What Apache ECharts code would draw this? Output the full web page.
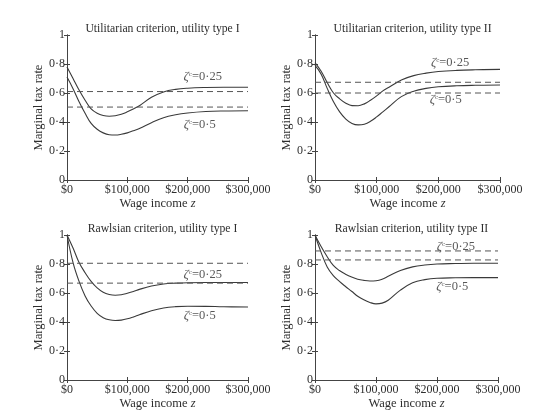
<!DOCTYPE html>
<html>
<head>
<meta charset="utf-8">
<script src="https://cdn.jsdelivr.net/npm/echarts@6/dist/echarts.min.js"></script>
<style>
  html, body { margin: 0; padding: 0; background: #fff; }
  #chart { width: 540px; height: 416px; }
</style>
</head>
<body>
<div id="chart"></div>
<script>
// wage income z (in $1000s) shared by every curve
const incomeK = [0, 10, 20, 30, 40, 50, 60, 70, 80, 90, 100, 110, 120, 140, 160, 180, 200, 230, 260, 300];

// utilitarian criterion, utility type I
const utilI_025 = [0.78, 0.70, 0.62, 0.55, 0.49, 0.46, 0.445, 0.44, 0.443, 0.453, 0.47, 0.49, 0.512, 0.57, 0.607, 0.625, 0.633, 0.638, 0.64, 0.64];
const utilI_05  = [0.71, 0.63, 0.54, 0.46, 0.39, 0.35, 0.325, 0.312, 0.31, 0.315, 0.325, 0.34, 0.355, 0.395, 0.43, 0.45, 0.462, 0.472, 0.476, 0.478];
const utilI_dash = [0.61, 0.503];

// utilitarian criterion, utility type II
const utilII_025 = [0.81, 0.75, 0.67, 0.60, 0.56, 0.53, 0.513, 0.512, 0.525, 0.55, 0.58, 0.615, 0.64, 0.69, 0.72, 0.737, 0.748, 0.756, 0.76, 0.763];
const utilII_05  = [0.79, 0.73, 0.63, 0.54, 0.47, 0.42, 0.39, 0.38, 0.385, 0.405, 0.435, 0.47, 0.505, 0.575, 0.612, 0.632, 0.643, 0.65, 0.653, 0.655];
const utilII_dash = [0.674, 0.60];

// rawlsian criterion, utility type I
const rawlI_025 = [1.0, 0.91, 0.81, 0.74, 0.68, 0.635, 0.605, 0.59, 0.585, 0.588, 0.598, 0.61, 0.625, 0.648, 0.662, 0.668, 0.671, 0.672, 0.672, 0.672];
const rawlI_05  = [1.0, 0.81, 0.68, 0.58, 0.51, 0.46, 0.43, 0.415, 0.41, 0.413, 0.422, 0.435, 0.45, 0.478, 0.497, 0.506, 0.509, 0.508, 0.505, 0.503];
const rawlI_dash = [0.805, 0.668];

// rawlsian criterion, utility type II
const rawlII_025 = [1.0, 0.92, 0.85, 0.79, 0.755, 0.73, 0.71, 0.695, 0.687, 0.683, 0.685, 0.695, 0.715, 0.755, 0.78, 0.793, 0.80, 0.803, 0.805, 0.805];
const rawlII_05  = [1.0, 0.88, 0.78, 0.72, 0.68, 0.645, 0.612, 0.578, 0.553, 0.535, 0.525, 0.53, 0.55, 0.62, 0.67, 0.692, 0.702, 0.705, 0.706, 0.706];
const rawlII_dash = [0.89, 0.828];

// where the ζ labels sit, [income $1000s, rate] for 0.25 then 0.5
const labelPos = [
  [[225, 0.71], [220, 0.38]],
  [[219, 0.807], [212, 0.552]],
  [[225, 0.724], [220, 0.441]],
  [[231, 0.917], [225, 0.641]]
];
const labelText = ['0·25', '0·5'];

const titles = [
  'Utilitarian criterion, utility type I',
  'Utilitarian criterion, utility type II',
  'Rawlsian criterion, utility type I',
  'Rawlsian criterion, utility type II'
];

const panels = [
  { a: utilI_025, b: utilI_05, dash: utilI_dash },
  { a: utilII_025, b: utilII_05, dash: utilII_dash },
  { a: rawlI_025, b: rawlI_05, dash: rawlI_dash },
  { a: rawlII_025, b: rawlII_05, dash: rawlII_dash }
];

const FONT = '"Liberation Serif", "DejaVu Serif", serif';
const INK = '#2e2e2e';

const grids = [
  { left: 67, top: 35, width: 181, height: 145 },
  { left: 315, top: 35, width: 185, height: 145 },
  { left: 67, top: 235, width: 181, height: 145 },
  { left: 315, top: 235, width: 183, height: 145 }
];

function pairs(vals) {
  return incomeK.map((z, i) => [z * 1000, vals[i]]);
}

let xAxis = [], yAxis = [], series = [], title = [];
grids.forEach((g, k) => {
  title.push({
    text: titles[k],
    left: g.left + g.width / 2,
    top: g.top - 17,
    textAlign: 'center',
    textStyle: { fontFamily: FONT, fontSize: 11.7, fontWeight: 'normal', color: INK }
  });
  const axLine = { show: true, lineStyle: { color: '#444', width: 1 } };
  const tick = { inside: true, length: 3, lineStyle: { color: '#444' } };
  xAxis.push({
    type: 'value', gridIndex: k, min: 0, max: 300000, interval: 100000,
    axisLine: axLine, axisTick: tick,
    splitLine: { show: false },
    axisLabel: {
      color: INK, fontFamily: FONT, fontSize: 12, margin: 4,
      formatter: v => '$' + v.toLocaleString('en-US')
    },
    name: '{n|Wage income }{i|z}', nameLocation: 'middle', nameGap: 17,
    nameTextStyle: {
      rich: {
        n: { fontFamily: FONT, fontSize: 12.5, color: INK },
        i: { fontFamily: FONT, fontSize: 12.5, color: INK, fontStyle: 'italic' }
      }
    }
  });
  xAxis.push({
    type: 'value', gridIndex: k, position: 'top', min: 0, max: 300000, interval: 100000,
    axisLine: axLine, axisTick: tick,
    splitLine: { show: false }, axisLabel: { show: false }
  });
  yAxis.push({
    type: 'value', gridIndex: k, min: 0, max: 1, interval: 0.2,
    axisLine: axLine, axisTick: tick,
    splitLine: { show: false },
    axisLabel: {
      color: INK, fontFamily: FONT, fontSize: 12, margin: 2,
      formatter: v => String(Math.round(v * 10) / 10).replace('.', '·')
    },
    name: 'Marginal tax rate', nameLocation: 'middle', nameGap: 22,
    nameTextStyle: { fontFamily: FONT, fontSize: 12.5, color: INK }
  });
  yAxis.push({
    type: 'value', gridIndex: k, position: 'right', min: 0, max: 1, interval: 0.2,
    axisLine: axLine, axisTick: tick,
    splitLine: { show: false }, axisLabel: { show: false }
  });

  const p = panels[k];
  [p.a, p.b].forEach(vals => {
    series.push({
      type: 'line', xAxisIndex: k * 2, yAxisIndex: k * 2,
      data: pairs(vals), smooth: 0.4, showSymbol: false, silent: true,
      lineStyle: { color: '#3a3a3a', width: 1.1 }
    });
  });
  p.dash.forEach(v => {
    series.push({
      type: 'line', xAxisIndex: k * 2, yAxisIndex: k * 2,
      data: [[0, v], [300000, v]], showSymbol: false, silent: true,
      lineStyle: { color: '#555', width: 1, type: [6, 4] }
    });
  });
  series.push({
    type: 'scatter', xAxisIndex: k * 2, yAxisIndex: k * 2, symbolSize: 0, silent: true,
    data: labelPos[k].map((pt, j) => ({ value: [pt[0] * 1000, pt[1]], txt: labelText[j] })),
    label: {
      show: true, position: 'inside',
      formatter: prm => '{z|ζ}{c|c}{t|=' + prm.data.txt + '}',
      rich: {
        z: { fontFamily: FONT, fontSize: 13, color: INK, fontStyle: 'italic' },
        c: { fontFamily: FONT, fontSize: 7, color: INK, verticalAlign: 'top', padding: [0, 0, 6, 0] },
        t: { fontFamily: FONT, fontSize: 12.5, color: INK }
      }
    }
  });
});

const chart = echarts.init(document.getElementById('chart'), null, { renderer: 'canvas' });
chart.setOption({
  animation: false,
  backgroundColor: '#fff',
  title, grid: grids, xAxis, yAxis, series
});
</script>
</body>
</html>
